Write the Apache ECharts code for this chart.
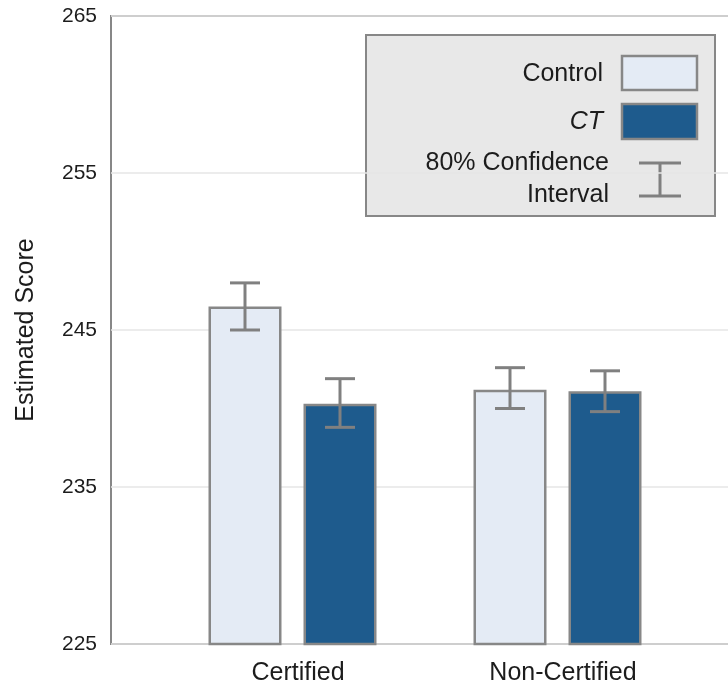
<!DOCTYPE html>
<html>
<head>
<meta charset="utf-8">
<script src="https://cdn.jsdelivr.net/npm/echarts@6/dist/echarts.min.js"></script>
<style>
  html, body { margin: 0; padding: 0; background: #ffffff; }
  #chart { width: 728px; height: 687px; }
</style>
</head>
<body>
<div id="chart"></div>
<script>
// Estimated scores by certification status, Control vs CT, with 80% confidence intervals
const categories = ['Certified', 'Non-Certified'];
const controlScores = [246.5, 241.2];
const controlLower = [245.0, 240.0];
const controlUpper = [248.0, 242.6];
const ctScores = [240.3, 241.1];
const ctLower = [238.8, 239.8];
const ctUpper = [241.9, 242.4];
const yTicks = [225, 235, 245, 255, 265];

const FONT = '"Liberation Sans", Arial, Helvetica, sans-serif';
const TEXT = '#1c1c1c';
const CONTROL_FILL = '#e4ebf5';
const CT_FILL = '#1e5b8d';
const EDGE = '#878787';
const WHISKER = '#808080';
const BAR_WIDTH = 73;
const BAR_GAP = 22;

function errorBarData(lower, upper) {
  return categories.map((c, i) => [i, lower[i], upper[i]]);
}

// Draws one whisker (stem + two caps), shifted sideways to sit on its bar
function whiskerRenderer(offsetPx) {
  return function (params, api) {
    const lo = api.coord([api.value(0), api.value(1)]);
    const hi = api.coord([api.value(0), api.value(2)]);
    const x = lo[0] + offsetPx;
    const cap = 15;
    const style = { stroke: WHISKER, lineWidth: 3, fill: null };
    return {
      type: 'group',
      children: [
        { type: 'line', shape: { x1: x, y1: hi[1], x2: x, y2: lo[1] }, style: style },
        { type: 'line', shape: { x1: x - cap, y1: hi[1], x2: x + cap, y2: hi[1] }, style: style },
        { type: 'line', shape: { x1: x - cap, y1: lo[1], x2: x + cap, y2: lo[1] }, style: style }
      ]
    };
  };
}

const half = (BAR_WIDTH + BAR_GAP) / 2;

const option = {
  animation: false,
  backgroundColor: '#ffffff',
  textStyle: { fontFamily: FONT },
  grid: [
    // frame with the value axis; its right side runs past the canvas edge
    { left: 111, top: 16, width: 680, bottom: 43, show: true, borderColor: EDGE, borderWidth: 2, backgroundColor: '#ffffff', containLabel: false, outerBoundsMode: 'none' },
    // bar area
    { left: 160, top: 16, width: 530, bottom: 43, containLabel: false, outerBoundsMode: 'none' }
  ],
  xAxis: [
    { gridIndex: 0, type: 'value', show: false, min: 0, max: 1 },
    {
      gridIndex: 1, type: 'category', data: categories,
      axisLine: { show: false }, axisTick: { show: false },
      axisLabel: { fontSize: 25, color: TEXT, margin: 17, fontFamily: FONT, padding: [0, 0, 0, 11] }
    }
  ],
  yAxis: [
    {
      gridIndex: 0, type: 'value', min: yTicks[0], max: yTicks[yTicks.length - 1], interval: 10,
      name: 'Estimated Score', nameLocation: 'middle', nameGap: 72, nameRotate: 90,
      nameTextStyle: { fontSize: 25, color: TEXT, fontFamily: FONT },
      axisLine: { show: false }, axisTick: { show: false },
      axisLabel: { fontSize: 21, color: TEXT, margin: 14, fontFamily: FONT },
      splitLine: { show: true, lineStyle: { color: '#e6e6e6', width: 1.5 } }
    },
    {
      gridIndex: 1, type: 'value', min: yTicks[0], max: yTicks[yTicks.length - 1], interval: 10,
      show: false, splitLine: { show: false }
    }
  ],
  series: [
    {
      name: 'Control', type: 'bar', xAxisIndex: 1, yAxisIndex: 1,
      data: controlScores, barWidth: BAR_WIDTH, barGap: (BAR_GAP / BAR_WIDTH * 100) + '%',
      itemStyle: { color: CONTROL_FILL, borderColor: EDGE, borderWidth: 2.5 }
    },
    {
      name: 'CT', type: 'bar', xAxisIndex: 1, yAxisIndex: 1,
      data: ctScores, barWidth: BAR_WIDTH,
      itemStyle: { color: CT_FILL, borderColor: EDGE, borderWidth: 2.5 }
    },
    {
      name: 'Control CI', type: 'custom', xAxisIndex: 1, yAxisIndex: 1, z: 5,
      renderItem: whiskerRenderer(-half), data: errorBarData(controlLower, controlUpper)
    },
    {
      name: 'CT CI', type: 'custom', xAxisIndex: 1, yAxisIndex: 1, z: 5,
      renderItem: whiskerRenderer(half), data: errorBarData(ctLower, ctUpper)
    }
  ],
  graphic: [
    {
      type: 'group', left: 365, top: 34, z: 100,
      children: [
        { type: 'rect', shape: { x: 0, y: 0, width: 349, height: 181 }, style: { fill: '#e8e8e8', stroke: EDGE, lineWidth: 2 } },
        { type: 'text', x: 237, y: 39, style: { text: 'Control', fill: TEXT, font: '25px ' + FONT, align: 'right', verticalAlign: 'middle' } },
        { type: 'rect', shape: { x: 256, y: 21, width: 75, height: 34 }, style: { fill: CONTROL_FILL, stroke: EDGE, lineWidth: 2.5 } },
        { type: 'text', x: 237, y: 87, style: { text: 'CT', fill: TEXT, font: 'italic 25px ' + FONT, align: 'right', verticalAlign: 'middle' } },
        { type: 'rect', shape: { x: 256, y: 69, width: 75, height: 35 }, style: { fill: CT_FILL, stroke: EDGE, lineWidth: 2.5 } },
        { type: 'text', x: 243, y: 128, style: { text: '80% Confidence', fill: TEXT, font: '25px ' + FONT, align: 'right', verticalAlign: 'middle' } },
        { type: 'text', x: 243, y: 160, style: { text: 'Interval', fill: TEXT, font: '25px ' + FONT, align: 'right', verticalAlign: 'middle' } },
        { type: 'line', shape: { x1: 273, y1: 128, x2: 315, y2: 128 }, style: { stroke: WHISKER, lineWidth: 3 } },
        { type: 'line', shape: { x1: 273, y1: 161, x2: 315, y2: 161 }, style: { stroke: WHISKER, lineWidth: 3 } },
        { type: 'line', shape: { x1: 294, y1: 128, x2: 294, y2: 161 }, style: { stroke: WHISKER, lineWidth: 3 } }
      ]
    }
  ]
};

const chart = echarts.init(document.getElementById('chart'), null, { renderer: 'canvas' });
chart.setOption(option);
</script>
</body>
</html>
